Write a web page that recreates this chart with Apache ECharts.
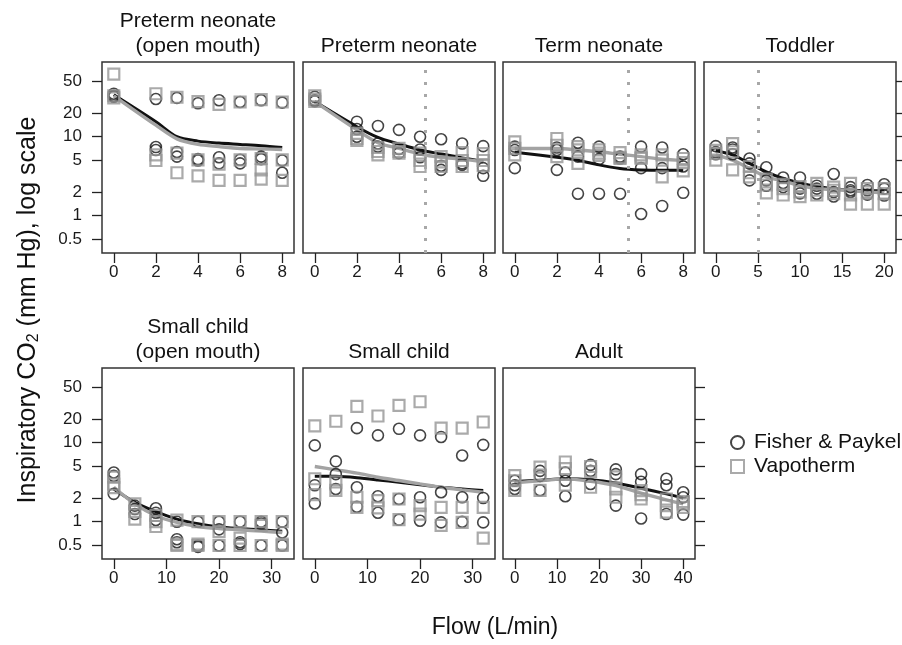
<!DOCTYPE html>
<html><head><meta charset="utf-8">
<script src="https://cdn.jsdelivr.net/npm/echarts@6/dist/echarts.min.js"></script>
<style>html,body{margin:0;padding:0;background:#fff}#c{width:902px;height:645px}</style>
</head><body><div id="c"></div>
<script>
// ---------------- DATA ----------------
const panelTitles = [["Preterm neonate","(open mouth)"],["Preterm neonate"],["Term neonate"],["Toddler"],["Small child","(open mouth)"],["Small child"],["Adult"]];
const yTickLabels = [0.5, 1, 2, 5, 10, 20, 50];
const seriesNames = ["Fisher & Paykel", "Vapotherm"];
const xTickLabels = [[0,2,4,6,8],[0,2,4,6,8],[0,2,4,6,8],[0,5,10,15,20],[0,10,20,30],[0,10,20,30],[0,10,20,30,40]];
const refFlow = [null, 5.25, 5.4, 5, null, null, null];
const xTitle = "Flow (L/min)";

// Panel 1: Preterm neonate (open mouth)
const p1Flow = [0,2,3,4,5,6,7,8];
const p1FP = [[35,33,32],[30,7.4,6.8],[31,6.4,5.6],[26.5,5.2,5.0],[29,5.5,4.6],[27.5,5.1,4.6],[29,5.6,5.2],[27,5.0,3.5]];
const p1VT = [[62,33,31],[35,5.9,5.0],[31.6,6.2,3.5],[27.8,5.1,3.2],[25.7,4.5,2.8],[27.5,5.1,2.8],[29.5,5.3,3.8,2.9],[27.5,5.1,2.8]];
const p1FPfit = [34,15.5,10,8.8,8.3,8.0,7.7,7.3];
const p1VTfit = [33,14,9.4,8.0,7.5,7.1,7.0,6.9];

// Panel 2: Preterm neonate
const p2Flow = [0,2,3,4,5,6,7,8];
const p2FP = [[32,29,28],[15.5,12.5,10],[13.7,8.2,7.5],[12.2,7.0,6.2],[10,6.9,5.5],[9.3,4.3,3.8],[8.2,4.6,4.4],[7.6,4.0,3.2]];
const p2VT = [[33,30,28],[11,9.5,9],[7.3,6.5,5.9],[7.1,6.5,6.2],[6.2,5.0,4.2],[5.6,4.8,4.2],[6.3,5.0,4.2],[6.1,5.0,4.3]];
const p2FPfit = [27.8,13.4,9.8,8.1,6.8,6.05,5.4,4.9];
const p2VTfit = [27.8,12.2,8.4,7.1,6.05,5.5,5.2,4.8];

// Panel 3: Term neonate
const p3Flow = [0,2,3,4,5,6,7,8];
const p3FP = [[7.5,6.8,4.0],[7.3,6.8,3.8],[8.4,5.6,1.9],[7.5,5.2,1.9],[5.6,5.3,1.9],[7.5,4.0,1.05],[7.3,4.0,1.33],[6.0,4.2,1.95]];
const p3VT = [[8.6,7.1,5.9],[9.5,7.8,5.6],[7.5,6.8,4.6],[6.8,6.2,5.8],[6.3,5.5,5.3],[5.9,5.5,5.3],[5.9,5.05,3.1],[5.3,4.7,3.7]];
const p3FPfit = [6.35,5.5,5.05,4.4,3.97,3.8,3.75,3.75];
const p3VTfit = [7.1,7.1,6.8,6.45,6.0,5.6,5.2,5.0];

// Panel 4: Toddler
const p4Flow = [0,2,4,6,8,10,12,14,16,18,20];
const p4FP = [[7.6,6.4,6.0],[7.3,6.9,6.0],[5.3,4.6,2.8],[4.1,2.8,2.4],[3.05,2.6,2.3],[3.05,2.2,1.92],[2.4,2.2,1.9],[3.37,2.0,1.75],[2.3,2.1,2.0],[2.45,2.1,1.85],[2.5,2.2,1.8]];
const p4VT = [[6.7,6.15,5.05],[8.2,6.45,3.8],[4.2,3.5,3.1],[2.9,2.45,1.95],[2.5,2.2,1.83],[2.33,2.0,1.74],[2.57,2.1,1.83],[2.3,2.1,1.9],[2.57,1.83,1.4],[2.2,2.0,1.4],[2.2,1.9,1.4]];
const p4FPfit = [6.65,5.9,4.6,3.6,2.97,2.6,2.35,2.2,2.1,2.07,2.07];
const p4VTfit = [5.9,5.05,3.97,3.1,2.75,2.4,2.2,2.15,2.07,2.0,1.95];

// Panel 5: Small child (open mouth)
const p5Flow = [0,4,8,12,16,20,24,28,32];
const p5FP = [[4.2,3.8,2.25],[1.6,1.45,1.25],[1.48,1.3,1.05],[1.0,0.6,0.55],[1.0,0.5,0.48],[1.0,0.8,0.5],[1.0,0.55,0.52],[1.0,0.95,0.5],[1.0,0.73,0.5]];
const p5VT = [[3.66,3.0,2.7],[1.68,1.35,1.08],[1.2,1.0,0.87],[1.05,0.52,0.5],[1.0,0.52,0.5],[1.0,0.75,0.5],[1.0,0.62,0.5],[1.0,0.9,0.5],[1.0,0.52,0.5]];
const p5FPfit = [2.6,1.76,1.34,1.08,0.94,0.86,0.82,0.79,0.76];
const p5VTfit = [2.73,1.68,1.19,0.98,0.87,0.82,0.79,0.76,0.73];

// Panel 6: Small child
const p6Flow = [0,4,8,12,16,20,24,28,32];
const p6FP = [[9.25,2.9,1.7],[5.8,4.0,2.6],[15.3,2.73,1.55],[12.4,2.1,1.3],[15,1.94,1.06],[12.4,2.04,1.03],[11.8,2.36,0.98],[6.9,2.04,1.0],[9.4,2.0,0.98]];
const p6VT = [[16.3,3.5,2.2],[18.7,3.2,2.5],[28.9,2.04,1.52],[21.8,1.85,1.5],[29.7,1.94,1.06],[33,1.6,1.25],[15.3,1.52,0.9],[15.3,1.52,0.98],[18.3,1.52,0.62]];
const p6FPfit = [3.77,3.75,3.6,3.38,3.15,2.93,2.73,2.6,2.48];
const p6VTfit = [5.0,4.54,4.12,3.66,3.32,3.01,2.73,2.53,2.36];

// Panel 7: Adult
const p7Flow = [0,6,12,18,24,30,36,40];
const p7FP = [[3.3,2.9,2.6],[4.4,3.8,2.5],[4.2,3.3,2.1],[5.25,4.4,3.0],[4.6,4.0,1.6],[4.0,3.2,1.1],[3.5,2.9,1.25],[2.36,2.04,1.23]];
const p7VT = [[3.84,3.3,2.5],[4.9,3.9,2.5],[5.7,4.7,2.9],[5.0,4.3,2.73],[3.7,2.6,2.04],[2.48,2.2,1.94],[1.94,1.6,1.32],[1.8,1.68,1.52]];
const p7FPfit = [3.22,3.35,3.49,3.4,3.1,2.65,2.25,2.0];
const p7VTfit = [3.1,3.3,3.49,3.25,2.87,2.3,1.89,1.68];

// ---------------- BUILD ----------------
const panels = [
  {flow:p1Flow, fp:p1FP, vt:p1VT, fpFit:p1FPfit, vtFit:p1VTfit},
  {flow:p2Flow, fp:p2FP, vt:p2VT, fpFit:p2FPfit, vtFit:p2VTfit},
  {flow:p3Flow, fp:p3FP, vt:p3VT, fpFit:p3FPfit, vtFit:p3VTfit},
  {flow:p4Flow, fp:p4FP, vt:p4VT, fpFit:p4FPfit, vtFit:p4VTfit},
  {flow:p5Flow, fp:p5FP, vt:p5VT, fpFit:p5FPfit, vtFit:p5VTfit},
  {flow:p6Flow, fp:p6FP, vt:p6VT, fpFit:p6FPfit, vtFit:p6VTfit},
  {flow:p7Flow, fp:p7FP, vt:p7VT, fpFit:p7FPfit, vtFit:p7VTfit}
];
const FONT = "'Liberation Sans', Arial, Helvetica, sans-serif";
const lg = Math.log10;
const gLeft = [102,303,503,704,102,303,503];
const gTop = [62,62,62,62,368,368,368];
const GW = 192, GH = 191;
const Y_MIN = -0.472, Y_MAX = 1.946;
const yCustom = yTickLabels.map(v => lg(v));
const yFmt = v => { const k = yTickLabels.find(t => Math.abs(lg(t) - v) < 1e-6); return k === undefined ? '' : String(k); };

const grids = [], xAxes = [], yAxes = [], series = [], graphics = [];
panels.forEach((p, i) => {
  grids.push({left:gLeft[i], top:gTop[i], width:GW, height:GH, show:true, borderColor:'#333', borderWidth:1.5, backgroundColor:'#fff', containLabel:false});
  const fmin = p.flow[0], fmax = p.flow[p.flow.length-1], pad = (fmax - fmin) * 0.07;
  xAxes.push({gridIndex:i, type:'value', min:fmin - pad, max:fmax + pad, position:'bottom',
    splitLine:{show:false}, axisLine:{show:false, onZero:false},
    axisTick:{show:true, length:10, lineStyle:{color:'#222', width:1.3}, customValues:xTickLabels[i]},
    axisLabel:{fontSize:17, color:'#1a1a1a', fontFamily:FONT, margin:11, customValues:xTickLabels[i]}});
  const isLeft = (i === 0 || i === 4), isRight = (i === 3 || i === 6);
  yAxes.push({gridIndex:i, type:'value', min:Y_MIN, max:Y_MAX, position:isRight ? 'right' : 'left',
    splitLine:{show:false}, axisLine:{show:false, onZero:false},
    axisTick:{show:isLeft || isRight, length:10, lineStyle:{color:'#222', width:1.3}, customValues:yCustom},
    axisLabel:{show:isLeft, fontSize:17, color:'#1a1a1a', fontFamily:FONT, margin:20, customValues:yCustom, formatter:yFmt}});
  const fpPts = [], vtPts = [];
  p.flow.forEach((x, k) => {
    p.fp[k].forEach(v => fpPts.push([x, lg(v)]));
    p.vt[k].forEach(v => vtPts.push([x, lg(v)]));
  });
  const fpSeries = {name:seriesNames[0], type:'scatter', xAxisIndex:i, yAxisIndex:i, symbol:'circle', symbolSize:11,
    itemStyle:{color:'rgba(255,255,255,0)', borderColor:'#151515', borderWidth:1.6}, data:fpPts, z:2};
  if (refFlow[i] !== null) {
    fpSeries.markLine = {silent:true, symbol:'none', label:{show:false}, animation:false,
      lineStyle:{color:'#a8a8a8', width:3, type:[3,9]}, data:[{xAxis:refFlow[i]}]};
  }
  series.push(fpSeries);
  series.push({name:'FP fit', type:'line', xAxisIndex:i, yAxisIndex:i, symbol:'none', smooth:0.3,
    lineStyle:{color:'#111', width:3}, data:p.flow.map((x,k) => [x, lg(p.fpFit[k])]), z:2});
  series.push({name:seriesNames[1], type:'scatter', xAxisIndex:i, yAxisIndex:i, symbol:'rect', symbolSize:11,
    itemStyle:{color:'rgba(255,255,255,0)', borderColor:'#959595', borderWidth:2.2}, data:vtPts, z:2});
  series.push({name:'VT fit', type:'line', xAxisIndex:i, yAxisIndex:i, symbol:'none', smooth:0.3,
    lineStyle:{color:'#a3a3a3', width:3.4}, data:p.flow.map((x,k) => [x, lg(p.vtFit[k])]), z:2});

  // strip titles
  const cx = gLeft[i] + GW/2;
  const lines = panelTitles[i];
  const lastY = gTop[i] - 16;
  lines.forEach((t, j) => {
    graphics.push({type:'text', x:cx, y:lastY - (lines.length - 1 - j) * 25,
      style:{text:t, font:'21px ' + FONT, fill:'#111', align:'center', verticalAlign:'middle', textAlign:'center', textVerticalAlign:'middle'}});
  });
});

// axis titles
graphics.push({type:'text', x:495, y:628,
  style:{text:xTitle, font:'23px ' + FONT, fill:'#111', align:'center', verticalAlign:'middle', textAlign:'center', textVerticalAlign:'middle'}});
graphics.push({type:'text', x:28, y:310, rotation:Math.PI/2,
  style:{text:'{a|Inspiratory CO}{b|2}{a| (mm Hg), log scale}', fill:'#111', align:'center', verticalAlign:'middle', textAlign:'center', textVerticalAlign:'middle',
    rich:{a:{fontSize:25, fontFamily:FONT, fill:'#111', lineHeight:28}, b:{fontSize:16, fontFamily:FONT, fill:'#111', lineHeight:15, verticalAlign:'bottom'}}}});

const chart = echarts.init(document.getElementById('c'), null, {renderer:'canvas'});
chart.setOption({
  animation:false,
  backgroundColor:'#fff',
  grid:grids, xAxis:xAxes, yAxis:yAxes, series:series,
  legend:{data:seriesNames, orient:'vertical', left:725, top:427, itemWidth:13, itemHeight:13, itemGap:3,
    selectedMode:false, textStyle:{fontSize:21, color:'#111', fontFamily:FONT, padding:[0,0,0,5]}},
  graphic:{elements:graphics}
});
</script>
</body></html>
